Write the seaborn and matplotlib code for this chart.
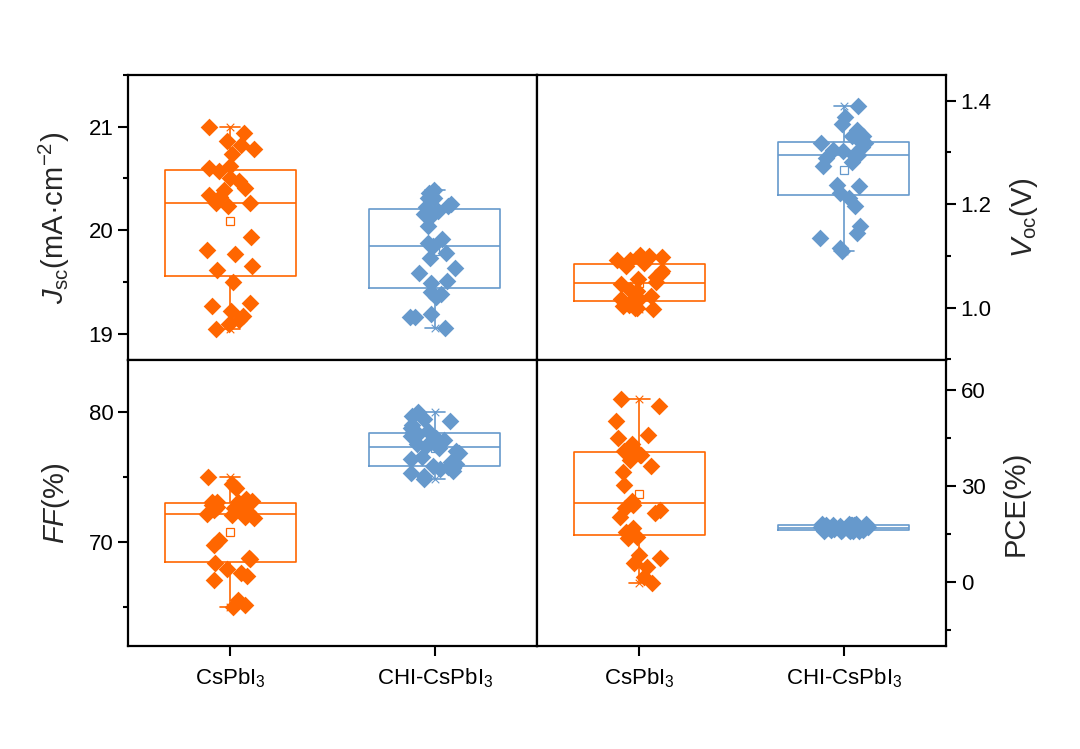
import numpy as np
import pandas as pd
import seaborn as sns
from matplotlib import pyplot as plt
from matplotlib.ticker import MultipleLocator

# sample names and colours
samples = ["CsPbI$_3$", "CHI-CsPbI$_3$"]
colors = ["#FF6600", "#6699CC"]

# values
jsc_ref = [21.00, 20.94, 20.86, 20.82, 20.78, 20.74, 20.62, 20.60, 20.57, 20.50,
           20.47, 20.41, 20.39, 20.34, 20.32, 20.26, 20.26, 20.23, 19.93, 19.81,
           19.77, 19.65, 19.61, 19.50, 19.30, 19.27, 19.22, 19.17, 19.13, 19.09, 19.04]
jsc_chi = [20.39, 20.36, 20.31, 20.31, 20.25, 20.23, 20.22, 20.18, 20.16, 20.15,
           20.04, 19.91, 19.88, 19.85, 19.78, 19.73, 19.63, 19.59, 19.51, 19.49,
           19.40, 19.38, 19.35, 19.19, 19.16, 19.16, 19.05]

voc_ref = [1.101, 1.100, 1.098, 1.096, 1.092, 1.092, 1.087, 1.080, 1.071, 1.067,
           1.060, 1.055, 1.050, 1.045, 1.035, 1.032, 1.022, 1.017, 1.016, 1.013,
           1.010, 1.006, 1.003, 1.000, 1.000, 0.997]
voc_chi = [1.390, 1.369, 1.356, 1.344, 1.331, 1.331, 1.324, 1.318, 1.318, 1.311,
           1.305, 1.302, 1.295, 1.295, 1.289, 1.282, 1.273, 1.238, 1.236, 1.222,
           1.212, 1.196, 1.157, 1.144, 1.135, 1.116, 1.109]

ff_ref = [74.99, 74.45, 74.14, 73.30, 73.20, 73.11, 73.11, 73.10, 72.85, 72.70,
          72.60, 72.47, 72.40, 72.34, 72.20, 72.08, 71.95, 71.83, 70.15, 69.82,
          68.79, 68.74, 68.36, 67.97, 67.59, 67.38, 67.07, 65.53, 65.14, 65.00]
ff_chi = [80.00, 79.75, 79.50, 79.30, 79.00, 78.80, 78.60, 78.45, 78.35, 78.15,
          78.00, 77.85, 77.70, 77.55, 77.40, 77.25, 77.00, 76.85, 76.60, 76.40,
          76.20, 76.00, 75.85, 75.80, 75.70, 75.60, 75.45, 75.30, 75.10, 74.85]

pce_ref = [57.4, 55.0, 50.5, 45.9, 45.1, 43.2, 41.4, 40.9, 39.8, 39.8,
           38.3, 36.2, 34.4, 30.4, 25.2, 24.0, 23.1, 22.4, 21.6, 20.5,
           16.9, 15.8, 14.2, 13.7, 8.5, 7.5, 5.9, 4.8, 1.7, -0.4]
pce_chi = [18.3, 18.2, 18.1, 18.0, 17.9, 17.85, 17.8, 17.75, 17.7, 17.6,
           17.5, 17.4, 17.3, 17.2, 17.1, 17.0, 17.0, 16.9, 16.8, 16.6,
           16.4, 16.3, 16.25, 16.2, 16.15, 16.1, 16.1, 16.05, 16.0, 15.9]

sns.set_style("ticks")
plt.rcParams["font.family"] = ["Liberation Sans", "DejaVu Sans"]
plt.rcParams["mathtext.fontset"] = "custom"
plt.rcParams["mathtext.rm"] = "Liberation Sans"
plt.rcParams["mathtext.it"] = "Liberation Sans:italic"
plt.rcParams["mathtext.bf"] = "Liberation Sans:bold"
plt.rcParams["text.color"] = "black"
plt.rcParams["axes.edgecolor"] = "black"
plt.rcParams["xtick.color"] = "black"
plt.rcParams["ytick.color"] = "black"

np.random.seed(7)


def draw_panel(ax, ref, chi, ylabel, ylim, major, side, bottom_row):
    df = pd.DataFrame({
        "sample": [samples[0]] * len(ref) + [samples[1]] * len(chi),
        "value": ref + chi,
    })
    for pos, (name, c) in enumerate(zip(samples, colors)):
        sub = df[df["sample"] == name]
        sns.boxplot(data=sub, x="sample", y="value", order=samples, color=c,
                    fill=False, width=0.64, whis=(0, 100), showfliers=False,
                    showmeans=True, linewidth=1.2, capwidths=0.1,
                    meanprops=dict(marker="s", markersize=6, markerfacecolor="white",
                                   markeredgecolor=c, markeredgewidth=0.9),
                    ax=ax)
        sns.stripplot(data=sub, x="sample", y="value", order=samples, color=c,
                      marker="D", size=9, jitter=0.12, linewidth=0, ax=ax, zorder=3)
        # min / max markers at the whisker ends
        ax.scatter([pos, pos], [sub["value"].min(), sub["value"].max()],
                   marker="x", s=30, color=c, linewidths=0.8, zorder=4)

    ax.set_xlim(-0.5, 1.5)
    ax.set_ylim(*ylim)
    ax.yaxis.set_major_locator(MultipleLocator(major))
    ax.yaxis.set_minor_locator(MultipleLocator(major / 2))
    ax.set_xlabel("")
    ax.set_ylabel(ylabel, fontsize=21, labelpad=12)

    for sp in ax.spines.values():
        sp.set_visible(True)
        sp.set_linewidth(1.6)
        sp.set_color("black")

    if side == "right":
        ax.yaxis.tick_right()
        ax.yaxis.set_label_position("right")
        ax.tick_params(axis="y", which="both", left=False, right=True,
                       labelleft=False, labelright=True)
    else:
        ax.tick_params(axis="y", which="both", left=True, right=False)
    ax.tick_params(axis="y", which="major", length=7, width=1.5, labelsize=16)
    ax.tick_params(axis="y", which="minor", length=3.5, width=1.5)

    if bottom_row:
        ax.tick_params(axis="x", which="major", bottom=True, length=7, width=1.5,
                       labelsize=16, pad=8)
    else:
        ax.tick_params(axis="x", which="both", bottom=False, labelbottom=False)
    ax.tick_params(axis="x", which="minor", bottom=False)


fig, axes = plt.subplots(2, 2, figsize=(10.8, 7.49), dpi=100)
fig.subplots_adjust(left=0.1185, right=0.876, top=0.9, bottom=0.1375,
                    wspace=0, hspace=0)

draw_panel(axes[0, 0], jsc_ref, jsc_chi, r"$J_{\mathrm{sc}}$(mA·cm$^{\mathrm{-2}}$)",
           (18.74, 21.5), 1, "left", False)
draw_panel(axes[0, 1], voc_ref, voc_chi, r"$V_{\mathrm{oc}}$(V)",
           (0.898, 1.45), 0.2, "right", False)
draw_panel(axes[1, 0], ff_ref, ff_chi, r"$FF$(%)",
           (62, 84), 10, "left", True)
draw_panel(axes[1, 1], pce_ref, pce_chi, "PCE(%)",
           (-20, 69.3), 30, "right", True)

fig.savefig("out.png", dpi=100)
